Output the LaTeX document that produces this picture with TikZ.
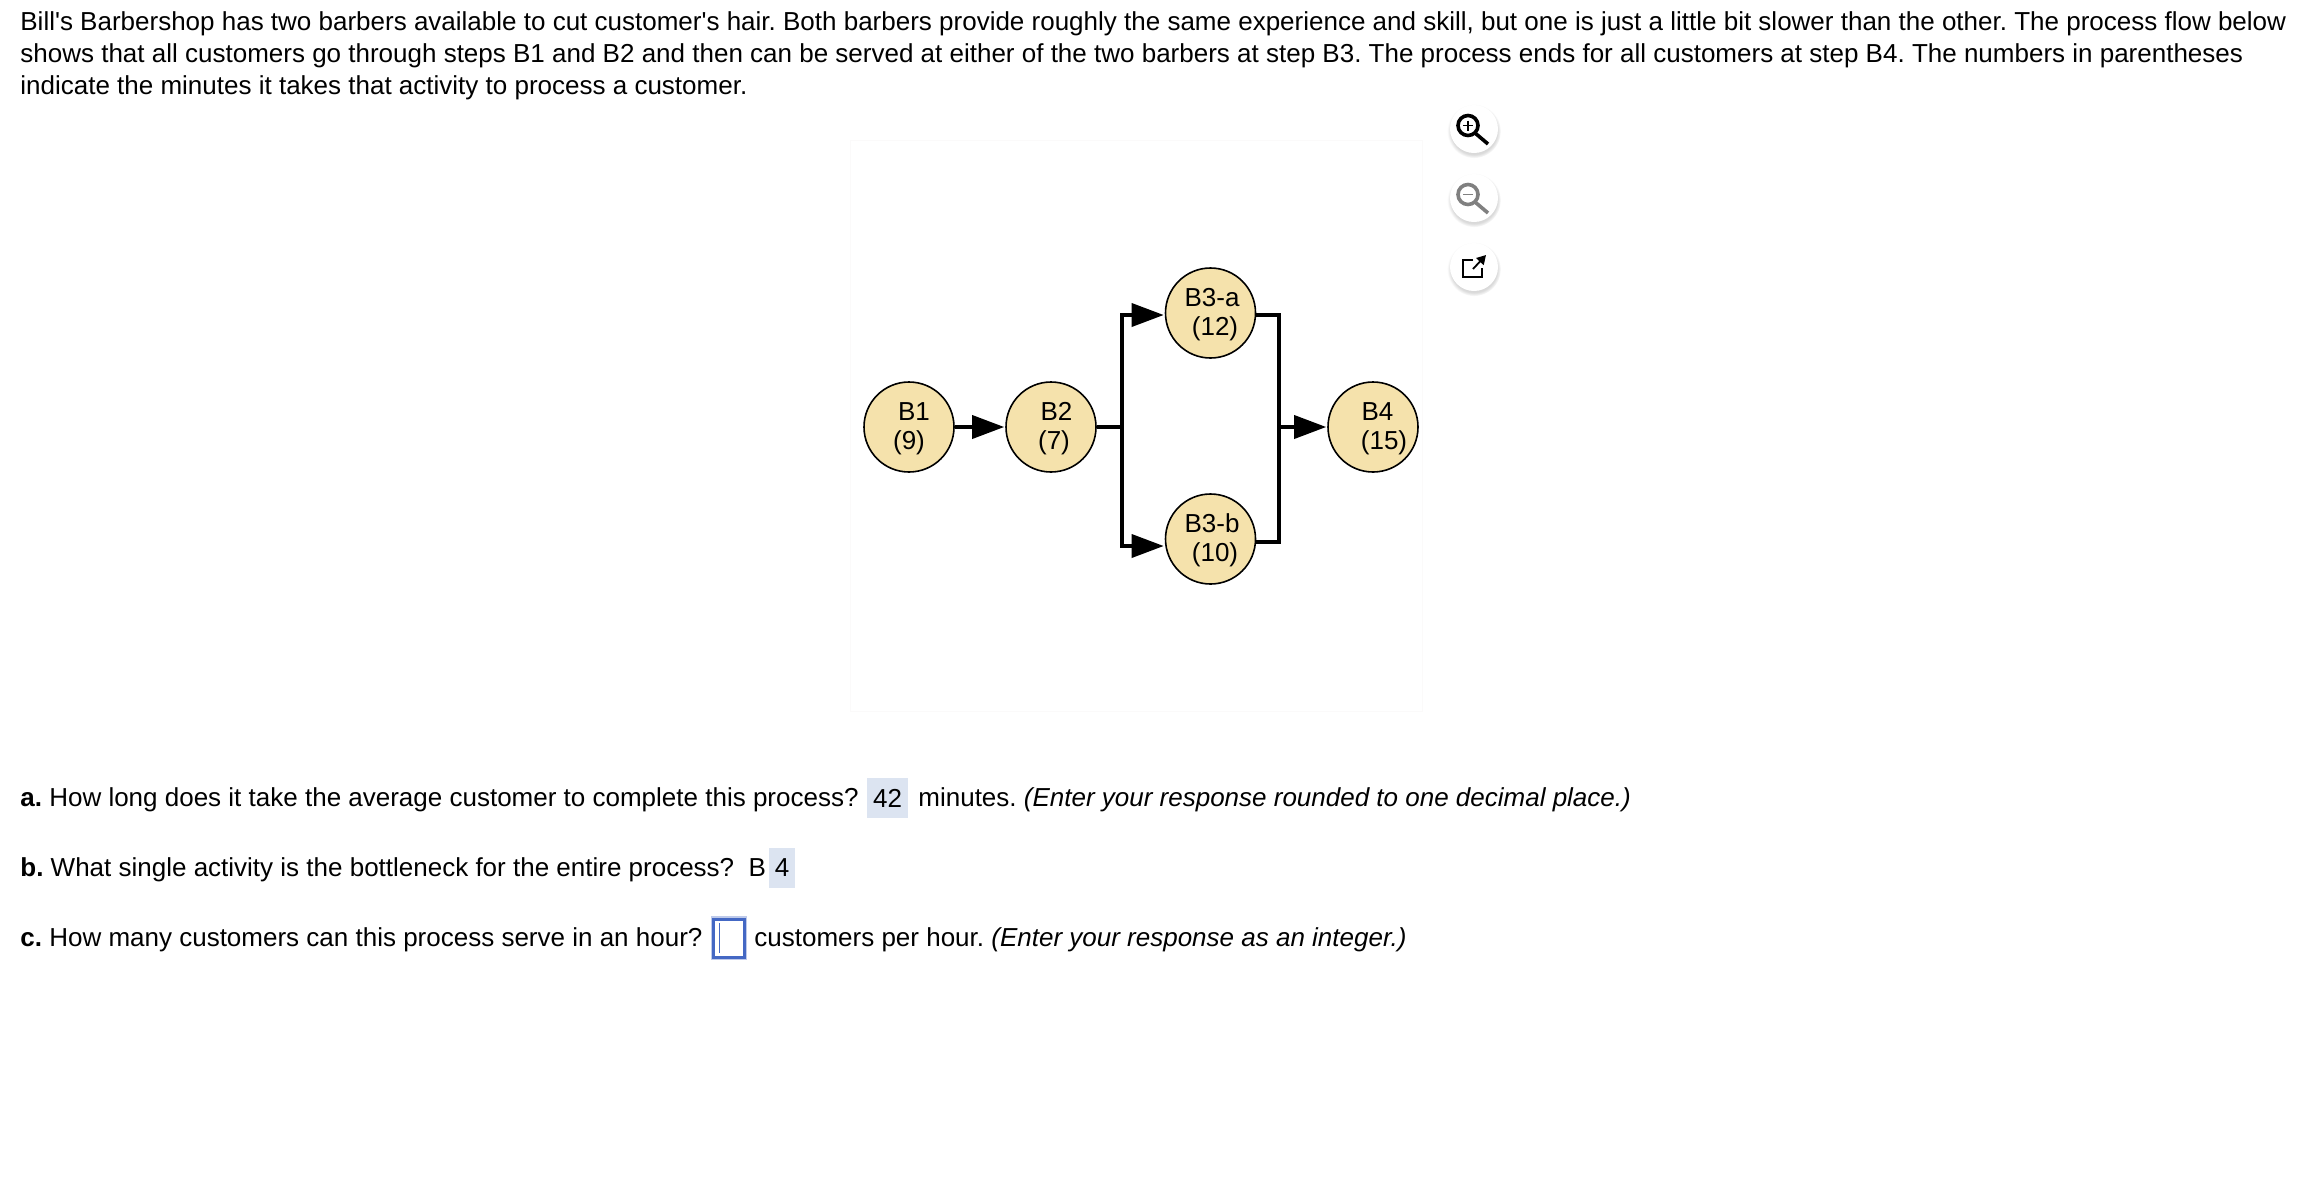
\documentclass[tikz,border=0pt]{standalone}
\usepackage{fontspec}
\setmainfont{Liberation Sans}
\usetikzlibrary{arrows.meta,shadows}
\definecolor{stepfill}{HTML}{F5E2AC}
\definecolor{answerfill}{HTML}{DCE4F1}
\definecolor{inputblue}{HTML}{4468C4}
\definecolor{panelline}{HTML}{FBFAFA}
\frenchspacing
\newcommand{\steptext}[4]{\raisebox{0pt}[10.7pt][0pt]{\hspace*{#1pt}#2}\\\raisebox{0pt}[0pt][2.8pt]{\hspace*{#3pt}#4}}
\tikzset{
  txt/.style={inner sep=0pt, anchor=base west, font=\fontsize{13}{16}\selectfont},
  stepnode/.style={draw, circle, fill=stepfill, line width=0.8pt, minimum size=45pt, inner sep=0pt, align=center, font=\fontsize{13}{14.2}\selectfont},
  flowline/.style={line width=1.8pt},
  flowarrow/.style={line width=1.8pt, -{Triangle[length=16pt,width=11.5pt]}, shorten >=0.5pt},
  answerbox/.style={fill=answerfill, inner sep=0pt, minimum height=20pt, font=\fontsize{13}{16}\selectfont},
  iconbtn/.style={circle, fill=white, minimum size=24pt, inner sep=0pt, circular drop shadow={shadow xshift=0pt, shadow yshift=-1pt, shadow scale=1.12, opacity=0.3}}
}
\begin{document}
\begin{tikzpicture}[x=0.5pt,y=-0.5pt]
    \useasboundingbox (0,0) rectangle (2306,1200);

    % Question text (Top)
    \node[txt] (introA) at (20,30) {Bill\textquotesingle s Barbershop has two barbers available to cut customer\textquotesingle s hair. Both barbers provide roughly the same experience and skill, but one is just a little bit slower than the other. The process flow below};
    \node[txt] (introB) at (20,62) {shows that all customers go through steps B1 and B2 and then can be served at either of the two barbers at step B3. The process ends for all customers at step B4. The numbers in parentheses};
    \node[txt] (introC) at (20,94) {indicate the minutes it takes that activity to process a customer.};

    % Figure panel
    \draw[panelline, fill=white] (850,140) rectangle (1422,711);

    % Process steps
    \node[stepnode] (B1) at (909,427) {\steptext{5}{B1}{0}{(9)}};
    \node[stepnode] (B2) at (1051,427) {\steptext{5.5}{B2}{3}{(7)}};
    \node[stepnode] (B3a) at (1210.5,313) {\steptext{1.5}{B3-a}{4.5}{(12)}};
    \node[stepnode] (B3b) at (1210.5,539) {\steptext{1.5}{B3-b}{4.5}{(10)}};
    \node[stepnode] (B4) at (1373,427) {\steptext{4.5}{B4}{11}{(15)}};

    \coordinate (splitL) at (1122,427);
    \coordinate (splitR) at (1279,427);

    \draw[flowarrow] (B1) -- (B2);
    \draw[flowline] (B2) -- (splitL);
    \draw[flowarrow] (splitL) |- ([yshift=-1pt]B3a.west);
    \draw[flowarrow] (splitL) |- ([yshift=-3.5pt]B3b.west);
    \draw[flowline, line cap=rect] ([yshift=-1pt]B3a.east) -| (splitR);
    \draw[flowline, line cap=rect] ([yshift=-1.5pt]B3b.east) -| (splitR);
    \draw[flowarrow] (splitR) -- (B4);

    % Zoom buttons
    \node[iconbtn] (iconIn) at (1474,129) {};
    \node[iconbtn] (iconOut) at (1474,198) {};
    \node[iconbtn] (iconOpen) at (1474,267) {};

    \begin{scope}[shift={(iconIn)}]
        \draw[line width=1.8pt] (-6,-3.5) circle (10);
        \draw[line width=1.8pt] (1,4) -- (14,15);
        \draw[line width=0.7pt] (-11,-3.5) -- (-1,-3.5) (-6,-8.5) -- (-6,1.5);
    \end{scope}
    \begin{scope}[shift={(iconOut)}]
        \draw[gray, line width=1.8pt] (-6,-3.5) circle (10);
        \draw[gray, line width=1.8pt] (1,4) -- (14,15);
        \draw[gray, line width=0.7pt] (-11,-3.5) -- (-1,-3.5);
    \end{scope}
    \begin{scope}[shift={(iconOpen)}]
        \draw[line width=0.8pt] (-1,-7) -- (-11,-7) -- (-11,10) -- (8,10) -- (8,1);
        \draw[line width=0.9pt, -{Triangle[length=4.5pt,width=5pt]}] (-1,2) -- (12,-12);
    \end{scope}

    % Answer rows
    \node[txt] (rowA) at (20,806) {\textbf{a.} How long does it take the average customer to complete this process?};
    \node[answerbox, minimum width=20.5pt] (ansA) at (887.5,798) {42};
    \node[txt] (rowAend) at (918,806) {minutes. \textit{(Enter your response rounded to one decimal place.)}};

    \node[txt] (rowB) at (20,876) {\textbf{b.} What single activity is the bottleneck for the entire process?\enspace\kern0.7pt B};
    \node[answerbox, minimum width=13pt] (ansB) at (782,868) {4};

    \node[txt] (rowC) at (20,946) {\textbf{c.} How many customers can this process serve in an hour?};
    \node[draw=inputblue, fill=white, line width=1.5pt, inner sep=0pt, minimum width=15.5pt, minimum height=19pt, preaction={draw=inputblue!35, line width=2.6pt}] (inputC) at (729,938) {};
    \draw[inputblue, line width=0.5pt] ([xshift=-5pt,yshift=7.5pt]inputC.center) -- ([xshift=-5pt,yshift=-7.5pt]inputC.center);
    \node[txt] (rowCend) at (754,946) {customers per hour. \textit{(Enter your response as an integer.)}};
\end{tikzpicture}
\end{document}
